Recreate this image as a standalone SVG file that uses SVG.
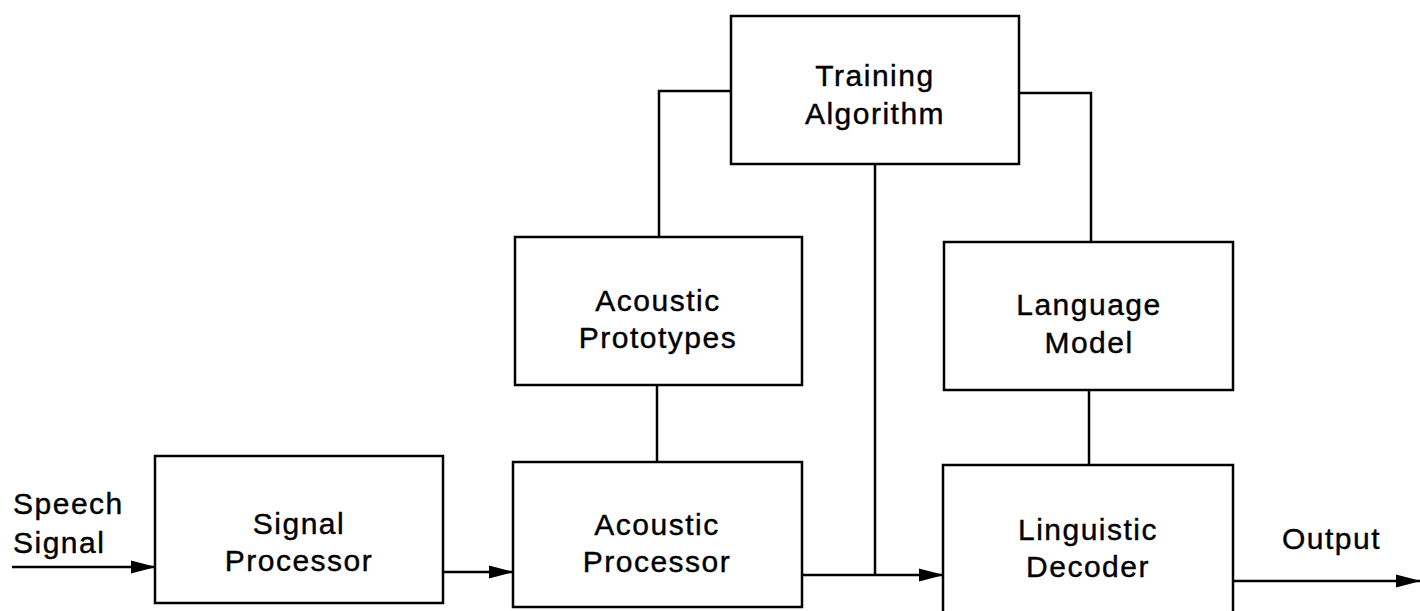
<svg xmlns="http://www.w3.org/2000/svg" width="1420" height="611" viewBox="0 0 1420 611">
  <style>
    .box { fill: #ffffff; stroke: #000000; stroke-width: 2.5; }
    .wire { fill: none; stroke: #000000; stroke-width: 2.5; }
    .lbl { font-family: "Liberation Sans", Arial, sans-serif; font-size: 30px; fill: #000000; stroke: #000000; stroke-width: 0.4; text-anchor: middle; letter-spacing: 1.5px; }
    .side { text-anchor: start; }
  </style>
  <defs>
    <marker id="arrow" markerUnits="userSpaceOnUse" markerWidth="25" markerHeight="14" refX="24" refY="7" orient="auto">
      <path d="M0,0.5 L25,7 L0,13.5 Z" fill="#000000"/>
    </marker>
  </defs>
  <rect width="1420" height="611" fill="#ffffff"/>

  <!-- connectors -->
  <g id="connectors">
    <line class="wire" x1="12" y1="567" x2="155" y2="567" marker-end="url(#arrow)"/>
    <line class="wire" x1="443" y1="572" x2="513" y2="572" marker-end="url(#arrow)"/>
    <line class="wire" x1="802" y1="575" x2="943" y2="575" marker-end="url(#arrow)"/>
    <line class="wire" x1="1233" y1="581" x2="1420" y2="581" marker-end="url(#arrow)"/>
    <polyline class="wire" points="731,91 659,91 659,237"/>
    <line class="wire" x1="657" y1="385" x2="657" y2="462"/>
    <line class="wire" x1="875" y1="164" x2="875" y2="575"/>
    <polyline class="wire" points="1019,93 1091,93 1091,242"/>
    <line class="wire" x1="1089" y1="390" x2="1089" y2="465"/>
  </g>

  <g id="training-algorithm">
    <rect class="box" x="731" y="16" width="288" height="148"/>
    <text class="lbl" x="875" y="86">Training</text>
    <text class="lbl" x="875" y="124">Algorithm</text>
  </g>

  <g id="acoustic-prototypes">
    <rect class="box" x="515" y="237" width="287" height="148"/>
    <text class="lbl" x="658" y="311">Acoustic</text>
    <text class="lbl" x="658" y="348">Prototypes</text>
  </g>

  <g id="language-model">
    <rect class="box" x="944" y="242" width="289" height="148"/>
    <text class="lbl" x="1089" y="315">Language</text>
    <text class="lbl" x="1089" y="353">Model</text>
  </g>

  <g id="signal-processor">
    <rect class="box" x="155" y="456" width="288" height="147"/>
    <text class="lbl" x="299" y="534">Signal</text>
    <text class="lbl" x="299" y="571">Processor</text>
  </g>

  <g id="acoustic-processor">
    <rect class="box" x="513" y="462" width="289" height="145"/>
    <text class="lbl" x="657" y="535">Acoustic</text>
    <text class="lbl" x="657" y="572">Processor</text>
  </g>

  <g id="linguistic-decoder">
    <rect class="box" x="943" y="465" width="290" height="160"/>
    <text class="lbl" x="1088" y="540">Linguistic</text>
    <text class="lbl" x="1088" y="577">Decoder</text>
  </g>

  <g id="speech-signal">
    <text class="lbl side" x="13" y="514">Speech</text>
    <text class="lbl side" x="13" y="553">Signal</text>
  </g>

  <g id="output">
    <text class="lbl side" x="1282" y="549">Output</text>
  </g>
</svg>
